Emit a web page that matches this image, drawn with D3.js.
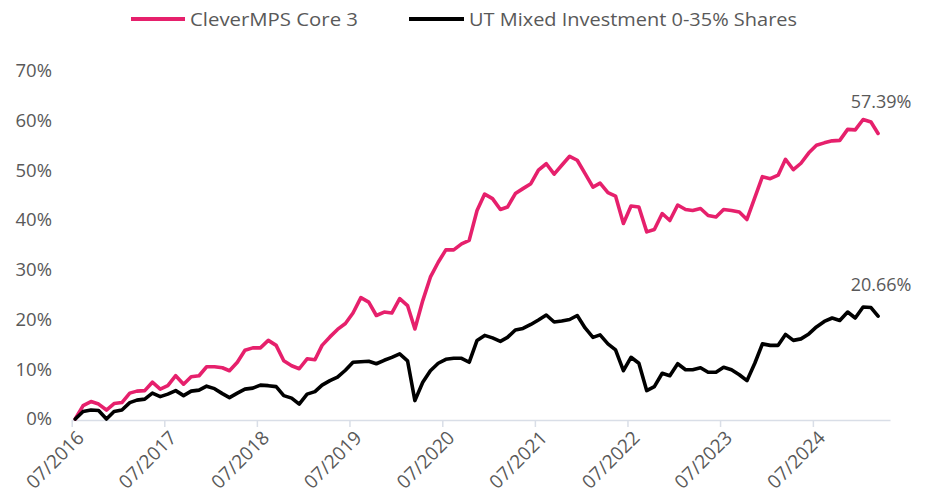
<!DOCTYPE html>
<html>
<head>
<meta charset="utf-8">
<script src="https://cdn.jsdelivr.net/npm/d3@7"></script>
<style>
  html, body { margin: 0; padding: 0; background: #ffffff; }
  svg { display: block; }
  text { font-family: "Open Sans", sans-serif; }
</style>
</head>
<body>
<svg id="chart" width="932" height="504"></svg>
<script>
// ---- Data (cumulative performance, %) ----
const seriesNames = ["CleverMPS Core 3", "UT Mixed Investment 0-35% Shares"];
const startMonth = "2016-07";
const endMonth = "2025-03";

const cleverMPS = [
  0, 2.7, 3.5, 3.0, 1.8, 3.1, 3.3, 5.2, 5.6, 5.7, 7.4, 6.0,
  6.7, 8.7, 7.0, 8.5, 8.7, 10.5, 10.5, 10.3, 9.7, 11.4, 13.8, 14.3,
  14.3, 15.8, 14.8, 11.7, 10.7, 10.1, 12.1, 11.9, 14.8, 16.5, 18.0, 19.2,
  21.3, 24.4, 23.5, 20.8, 21.5, 21.3, 24.2, 22.8, 18.1, 23.8, 28.5, 31.5,
  34.0, 34.0, 35.2, 35.9, 41.9, 45.2, 44.3, 42.1, 42.6, 45.3, 46.3, 47.3,
  50.0, 51.3, 49.2, 51.0, 52.8, 52.0, 49.3, 46.6, 47.4, 45.5, 44.8, 39.3,
  42.8, 42.6, 37.6, 38.1, 41.3, 39.9, 43.0, 42.1, 41.9, 42.3, 40.9, 40.6,
  42.1, 41.9, 41.6, 40.1, 44.5, 48.7, 48.3, 49.0, 52.2, 50.1, 51.4, 53.5,
  55.0, 55.5, 55.9, 56.0, 58.2, 58.1, 60.2, 59.7, 57.39
];
const utMixed = [
  0, 1.5, 1.8, 1.7, 0, 1.5, 1.8, 3.3, 3.8, 4.0, 5.2, 4.5,
  5.0, 5.7, 4.7, 5.6, 5.8, 6.6, 6.1, 5.1, 4.3, 5.2, 6.0, 6.2,
  6.8, 6.7, 6.5, 4.7, 4.2, 3.0, 5.0, 5.5, 6.8, 7.7, 8.4, 9.8,
  11.4, 11.5, 11.6, 11.1, 11.8, 12.4, 13.1, 11.7, 3.7, 7.4, 9.7, 11.2,
  12.0, 12.2, 12.2, 11.4, 15.8, 16.8, 16.3, 15.6, 16.4, 17.9, 18.2, 19.0,
  19.9, 20.9, 19.5, 19.7, 20.0, 20.8, 18.3, 16.4, 16.9, 15.1, 13.9, 9.7,
  12.4, 11.2, 5.7, 6.5, 9.2, 8.7, 11.1, 9.9, 9.9, 10.3, 9.4, 9.4,
  10.4, 9.9, 8.9, 7.7, 11.2, 15.1, 14.8, 14.8, 17.0, 15.8, 16.1, 17.1,
  18.5, 19.6, 20.3, 19.8, 21.5, 20.3, 22.5, 22.4, 20.66
];
const xTickLabels = ["07/2016", "07/2017", "07/2018", "07/2019", "07/2020",
                     "07/2021", "07/2022", "07/2023", "07/2024"];
const yTicks = [0, 10, 20, 30, 40, 50, 60, 70];
const endLabels = ["57.39%", "20.66%"];
const colors = ["#E6206C", "#000000"];

// ---- Build ----
const parseMonth = d3.timeParse("%Y-%m");
const parseTick = d3.timeParse("%m/%Y");
const months = d3.timeMonth.range(parseMonth(startMonth), d3.timeMonth.offset(parseMonth(endMonth), 1));
// Points sit in the middle of each month slot (date axis, between tick marks)
const midMonth = d => new Date(d.getFullYear(), d.getMonth(), 15);

const svg = d3.select("#chart");
svg.append("rect").attr("width", 932).attr("height", 504).attr("fill", "#fff");

const x = d3.scaleTime()
  .domain([parseMonth(startMonth), d3.timeMonth.offset(parseMonth(endMonth), 2)])
  .range([71.7, 890]);
const y = d3.scaleLinear().domain([0, 70]).range([419, 70.7]);

// Y axis labels (no line, no ticks)
const yAxis = d3.axisLeft(y).tickValues(yTicks).tickFormat(d => d + "%").tickSize(0).tickPadding(0);
const gy = svg.append("g").attr("transform", "translate(52,0)").call(yAxis);
gy.select(".domain").remove();
gy.selectAll("text")
  .attr("font-family", "'Open Sans', sans-serif")
  .attr("font-size", 18.5)
  .attr("fill", "#595959");

// X axis
const xAxis = d3.axisBottom(x)
  .tickValues(xTickLabels.map(parseTick))
  .tickFormat(d3.timeFormat("%m/%Y"))
  .tickSize(7).tickSizeOuter(0);
const gx = svg.append("g").attr("transform", "translate(0,420)").call(xAxis);
gx.select(".domain").attr("stroke", "#D9DEE7").attr("stroke-width", 1.5);
gx.selectAll(".tick line").attr("stroke", "#D9DEE7").attr("stroke-width", 1.5);
gx.selectAll(".tick text")
  .attr("font-family", "'Open Sans', sans-serif")
  .attr("font-size", 19)
  .attr("fill", "#595959")
  .attr("text-anchor", "end")
  .attr("dy", 0)
  .attr("y", 0)
  .attr("transform", "translate(13,19) rotate(-45)");

// Lines
const series = [cleverMPS, utMixed];
const line = d3.line()
  .x((d, i) => x(midMonth(months[i])))
  .y(d => y(d))
  .curve(d3.curveLinear);

series.forEach((vals, k) => {
  svg.append("path")
    .datum(vals)
    .attr("d", line)
    .attr("fill", "none")
    .attr("stroke", colors[k])
    .attr("stroke-width", 3.6)
    .attr("stroke-linejoin", "round")
    .attr("stroke-linecap", "round");
});

// End labels
series.forEach((vals, k) => {
  const n = vals.length - 1;
  svg.append("text")
    .attr("x", x(midMonth(months[n])) + 3)
    .attr("y", y(vals[n]) - 25)
    .attr("text-anchor", "middle")
    .attr("font-size", 18)
    .attr("fill", "#595959")
    .text(endLabels[k]);
});

// Legend
const legendItems = [
  { x1: 131, x2: 185, tx: 190, tl: 168 },
  { x1: 409, x2: 464, tx: 469, tl: 328 }
];
legendItems.forEach((it, k) => {
  svg.append("line")
    .attr("x1", it.x1).attr("x2", it.x2)
    .attr("y1", 19).attr("y2", 19)
    .attr("stroke", colors[k]).attr("stroke-width", 4);
  svg.append("text")
    .attr("x", it.tx).attr("y", 26)
    .attr("font-size", 19)
    .attr("fill", "#595959")
    .attr("textLength", it.tl)
    .attr("lengthAdjust", "spacingAndGlyphs")
    .text(seriesNames[k]);
});
</script>
</body>
</html>
